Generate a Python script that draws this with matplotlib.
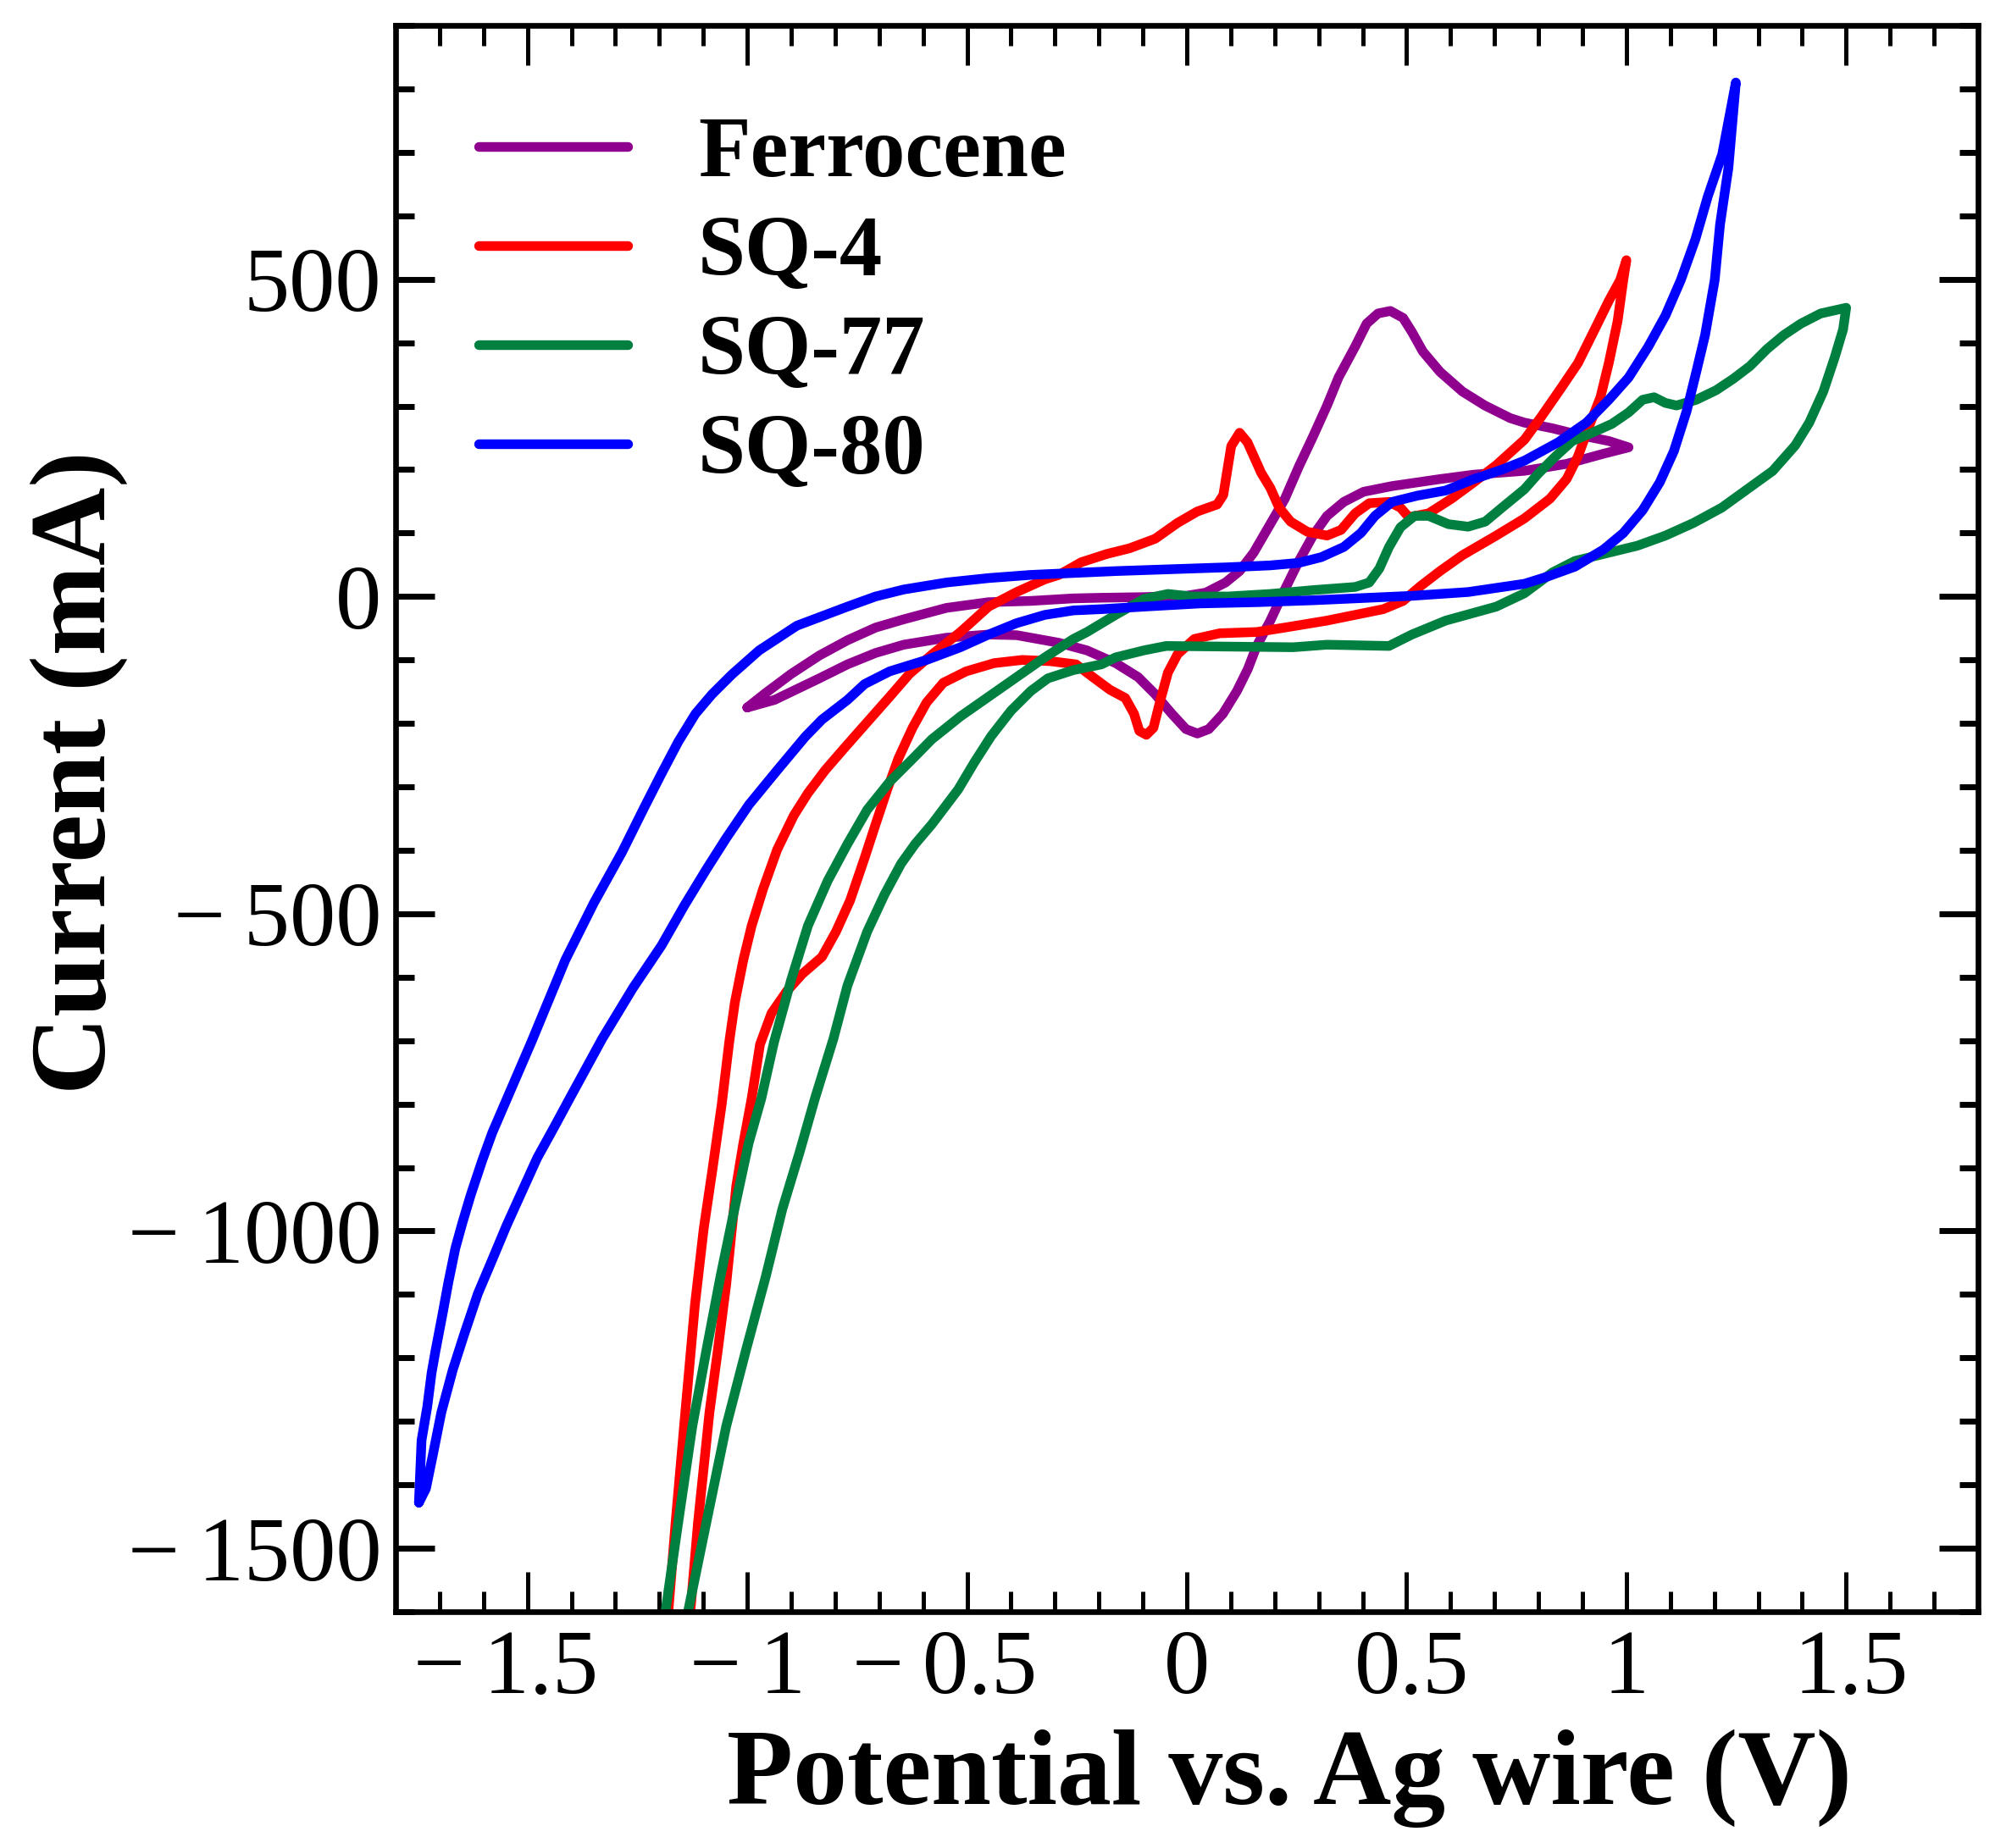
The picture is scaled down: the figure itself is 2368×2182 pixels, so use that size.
import matplotlib
matplotlib.use("Agg")
import matplotlib.pyplot as plt
from matplotlib.ticker import MultipleLocator, FixedLocator, FixedFormatter
from matplotlib.transforms import ScaledTranslation

plt.rcParams['font.family'] = ['Liberation Serif', 'DejaVu Serif']

ferro_v = [-1.0,-.958,-.90,-.836,-.772,-.708,-.644,-.547,-.451,-.355,-.258,-.194,-.098,-.002,.043,.088,.12,.152,.178,.204,.223,.255,.287,.319,.345,.383,.409,.435,.463,.492,.512,.537,.576,.627,.678,.736,.768,.832,.896,.96,1.005,
           .948,.864,.768,.653,.576,.467,.402,.357,.319,.287,.255,.223,.19,.159,.139,.114,.082,.05,.024,-.002,-.034,-.072,-.111,-.162,-.227,-.291,-.323,-.387,-.451,-.547,-.644,-.708,-.772,-.836,-.938,-1.0]
ferro_i = [-175,-152,-122,-93,-69,-49,-36,-18,-9,-7,-3,-2,-1,1,6,22,40,69,100,131,154,205,252,301,345,394,430,446,450,439,417,386,354,323,301,281,274,265,254,245,235,
           225,209,198,192,185,174,165,149,127,96,56,11,-38,-78,-114,-149,-185,-209,-216,-209,-185,-154,-127,-105,-85,-73,-69,-61,-60,-65,-76,-89,-107,-129,-163,-175]

sq4_v = [-1.13,-1.112,-1.086,-1.067,-1.048,-1.025,-1.009,-.99,-.971,-.945,-.91,-.875,-.83,-.798,-.766,-.733,-.708,-.682,-.656,-.624,-.592,-.554,-.502,-.438,-.374,-.31,-.252,-.214,-.175,-.14,-.12,-.108,-.092,-.076,-.06,-.043,-.021,.017,.075,.159,.223,.319,.447,.492,.531,.576,.627,.704,.768,.826,.864,.89,.916,.941,.96,.98,.993,1.0,
         .986,.96,.928,.89,.851,.806,.768,.704,.653,.602,.55,.505,.486,.46,.415,.383,.351,.319,.274,.236,.21,.19,.169,.138,.12,.101,.083,.069,.024,-.021,-.072,-.13,-.182,-.24,-.291,-.323,-.387,-.451,-.515,-.579,-.631,-.676,-.727,-.778,-.823,-.862,-.894,-.932,-.964,-.99,-1.009,-1.028,-1.041,-1.058,-1.08,-1.099,-1.119,-1.141,-1.163,-1.18]
sq4_i = [-1604,-1459,-1286,-1188,-1085,-929,-862,-791,-706,-657,-622,-595,-568,-528,-479,-412,-359,-305,-255,-207,-167,-136,-118,-105,-100,-102,-107,-127,-147,-160,-185,-212,-218,-207,-163,-120,-91,-67,-58,-56,-49,-38,-20,-7,16,40,65,96,123,154,185,221,270,314,368,434,499,530,
         499,466,421,368,328,283,247,207,180,154,131,125,140,149,147,131,105,96,102,118,140,171,195,243,258,237,160,145,134,116,91,76,67,54,34,27,7,-16,-56,-91,-122,-158,-198,-238,-274,-310,-345,-399,-461,-519,-573,-639,-702,-800,-907,-996,-1116,-1286,-1459,-1604]

sq77_v = [-1.136,-1.093,-1.048,-1.003,-.958,-.92,-.881,-.846,-.804,-.772,-.727,-.688,-.65,-.618,-.58,-.52,-.483,-.445,-.4,-.355,-.316,-.258,-.194,-.162,-.098,-.047,.094,.242,.319,.46,.512,.589,.704,.768,.832,.883,.948,1.025,1.089,1.153,1.217,1.281,1.333,1.384,1.416,1.448,1.474,1.493,1.5,
          1.442,1.397,1.358,1.32,1.281,1.243,1.204,1.159,1.114,1.089,1.063,1.037,1.005,.967,.922,.877,.839,.8,.768,.717,.679,.64,.595,.55,.518,.486,.46,.438,.415,.383,.287,.191,.094,.011,-.043,-.098,-.162,-.227,-.258,-.323,-.387,-.451,-.515,-.58,-.624,-.676,-.727,-.772,-.817,-.862,-.90,-.939,-.968,-.997,-1.029,-1.061,-1.093,-1.125,-1.157,-1.187]
sq77_i = [-1604,-1459,-1308,-1188,-1072,-965,-876,-791,-697,-613,-528,-470,-421,-390,-359,-304,-261,-220,-180,-149,-129,-116,-107,-96,-85,-78,-79,-80,-76,-78,-60,-38,-16,5,38,56,67,80,96,116,140,172,198,238,274,323,377,421,455,
          446,430,412,390,363,343,325,310,301,305,314,310,290,272,258,245,221,194,169,140,118,110,114,127,127,109,78,44,22,15,10,4,0,0,4,-4,-29,-56,-67,-96,-127,-158,-189,-225,-256,-292,-336,-390,-448,-519,-604,-702,-791,-862,-965,-1072,-1188,-1308,-1459,-1604]

sq80_v = [-1.747,-1.731,-1.715,-1.696,-1.67,-1.645,-1.613,-1.58,-1.548,-1.516,-1.478,-1.439,-1.404,-1.33,-1.26,-1.195,-1.144,-1.093,-1.048,-.996,-.932,-.868,-.83,-.772,-.733,-.676,-.592,-.515,-.451,-.387,-.323,-.258,-.194,-.098,.03,.159,.287,.383,.512,.64,.768,.819,.883,.948,.993,1.037,1.076,1.108,1.137,1.159,1.179,1.201,1.213,1.232,1.249,
          1.218,1.185,1.157,1.124,1.089,1.05,1.005,.96,.909,.845,.768,.717,.653,.589,.525,.467,.428,.396,.357,.306,.255,.19,.094,-.034,-.162,-.291,-.355,-.451,-.547,-.644,-.708,-.772,-.887,-.973,-1.035,-1.08,-1.118,-1.157,-1.195,-1.234,-1.285,-1.349,-1.414,-1.491,-1.552,-1.58,-1.603,-1.629,-1.648,-1.664,-1.68,-1.693,-1.709,-1.718,-1.728,-1.741,-1.747]
sq80_i = [-1428,-1406,-1352,-1286,-1219,-1165,-1099,-1045,-992,-943,-885,-836,-791,-697,-617,-550,-488,-430,-381,-328,-274,-221,-194,-163,-138,-118,-100,-80,-60,-42,-29,-22,-20,-16,-11,-9,-6,-3,1,7,20,31,47,74,100,136,180,229,292,354,412,499,586,675,810,
          697,630,563,499,443,394,345,310,274,243,214,200,185,167,159,149,127,100,78,62,53,49,46,43,40,36,34,29,22,11,0,-16,-46,-85,-123,-154,-185,-229,-279,-332,-403,-483,-573,-702,-800,-845,-889,-943,-987,-1027,-1081,-1130,-1188,-1223,-1277,-1330,-1428]

series_names = ["Ferrocene", "SQ-4", "SQ-77", "SQ-80"]
series_colors = ["#8F008F", "#FF0000", "#008040", "#0000FF"]
x_ticks = [-1.5, -1, -0.5, 0, 0.5, 1, 1.5]
x_labels = ["\u2212\u20091.5", "\u2212\u20091", "\u2212\u20090.5", "0", "0.5", "1", "1.5"]
y_ticks = [-1500, -1000, -500, 0, 500]
y_labels = ["\u2212\u20091500", "\u2212\u20091000", "\u2212\u2009500", "0", "500"]

W, H = 2368, 2182
fig = plt.figure(figsize=(W/100, H/100), dpi=100, facecolor="white")
ax = fig.add_axes([467/W, 1-1903/H, (2335-467)/W, (1903-30)/H])

for v, i, n, c in zip([ferro_v, sq4_v, sq77_v, sq80_v], [ferro_i, sq4_i, sq77_i, sq80_i], series_names, series_colors):
    ax.plot(v, i, color=c, lw=8.2, label=n, solid_joinstyle="round", solid_capstyle="round")

ax.set_xlim(-1.8, 1.8)
ax.set_ylim(-1600, 900)
ax.xaxis.set_major_locator(FixedLocator(x_ticks))
ax.xaxis.set_major_formatter(FixedFormatter(x_labels))
ax.yaxis.set_major_locator(FixedLocator(y_ticks))
ax.yaxis.set_major_formatter(FixedFormatter(y_labels))
ax.xaxis.set_minor_locator(MultipleLocator(0.1))
ax.yaxis.set_minor_locator(MultipleLocator(100))
ax.tick_params(axis="x", which="major", direction="in", top=True, bottom=True, length=34, width=3.6, labelsize=78, pad=15)
ax.tick_params(axis="x", which="minor", direction="in", top=True, bottom=True, length=17, width=3.6)
ax.tick_params(axis="y", which="major", direction="in", left=True, right=True, length=33, width=5, labelsize=78, pad=12)
ax.tick_params(axis="y", which="minor", direction="in", left=True, right=True, length=16, width=5)
for s in ax.spines.values():
    s.set_linewidth(4.8)

off_neg = ScaledTranslation(-26/100, 0, fig.dpi_scale_trans)
off_pos = ScaledTranslation(6/100, 0, fig.dpi_scale_trans)
for t, val in zip(ax.get_xticklabels(), x_ticks):
    if val in (-1.5, -0.5):
        t.set_transform(t.get_transform() + off_neg)
    elif val in (0.5, 1.5):
        t.set_transform(t.get_transform() + off_pos)

leg = ax.legend(loc="upper left", bbox_to_anchor=(0.0525, 0.943), frameon=False,
                prop={"family": "Liberation Serif", "weight": "bold", "size": 72.5},
                handlelength=1.75, handletextpad=0.82, labelspacing=0.24, borderpad=0, borderaxespad=0)

fig.text(1522/W, 1-2130/H, "Potential vs. Ag wire (V)", fontsize=92, fontweight="bold", ha="center", va="baseline")
fig.text(93/W, 1-912/H, "Current (mA)", fontsize=92, fontweight="bold", rotation=90, ha="center", va="center")

fig.savefig("out.png", dpi=100, facecolor="white")
